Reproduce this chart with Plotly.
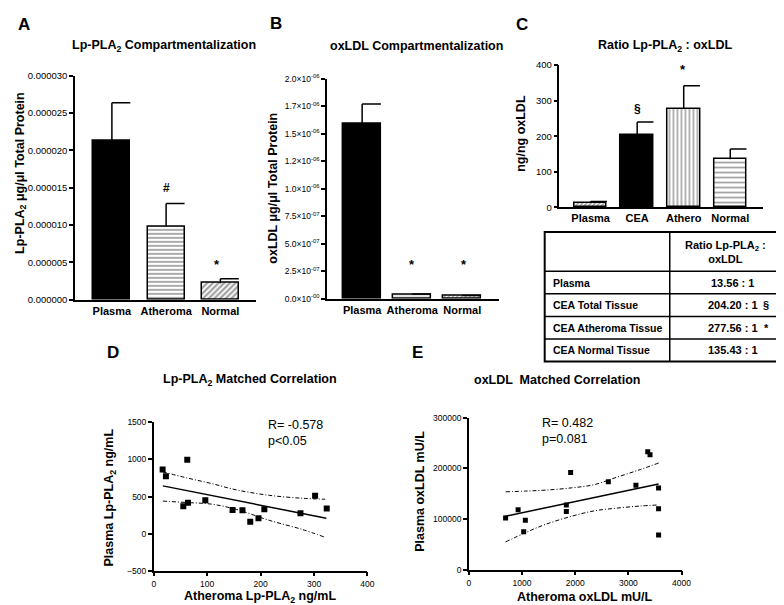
import plotly.graph_objects as go

W, H = 784, 605
FONT = "Liberation Sans, Arial, sans-serif"

# ---------------- data ----------------
bar_categories = ["Plasma", "Atheroma", "Normal"]
lp_pla2_mean = [2.13e-5, 9.8e-6, 2.2e-6]
lp_pla2_sem = [5.1e-6, 3.1e-6, 0.6e-6]
lp_pla2_ticks = [0, 5e-6, 1e-5, 1.5e-5, 2e-5, 2.5e-5, 3e-5]
lp_pla2_ticktext = ["0.000000", "0.000005", "0.000010", "0.000015", "0.000020", "0.000025", "0.000030"]

oxldl_mean = [1.59e-6, 3.8e-8, 2.5e-8]
oxldl_sem = [0.18e-6, 0.6e-8, 0.5e-8]
oxldl_ticks = [0, 2.5e-7, 5e-7, 7.5e-7, 1e-6, 1.25e-6, 1.5e-6, 1.75e-6, 2e-6]
oxldl_ticktext = ["0.0×10<sup>-00</sup>", "2.5×10<sup>-07</sup>", "5.0×10<sup>-07</sup>", "7.5×10<sup>-07</sup>",
                  "1.0×10<sup>-06</sup>", "1.2×10<sup>-06</sup>", "1.5×10<sup>-06</sup>", "1.7×10<sup>-06</sup>",
                  "2.0×10<sup>-06</sup>"]

ratio_categories = ["Plasma", "CEA", "Athero", "Normal"]
ratio_mean = [13.56, 204.20, 277.56, 135.43]
ratio_sem = [3, 36, 64, 29]

table_rows = ["Plasma", "CEA Total Tissue", "CEA Atheroma Tissue", "CEA Normal Tissue"]
table_vals = ["13.56 : 1", "204.20 : 1", "277.56 : 1", "135.43 : 1"]
table_marks = ["", "§", "*", ""]

# D: Lp-PLA2 matched correlation
d_x = [16.6, 22.7, 62.7, 55.3, 64, 96.5, 147.5, 166, 180.6, 196, 207, 274.6, 302, 323.8]
d_y = [866, 775, 995, 370, 415, 450, 318, 314, 160, 209, 329, 276, 510, 340]
d_fit_x = [17, 323]
d_fit_y = [644, 207]
d_band_x = [17, 63, 108, 155, 216, 278, 321]
d_band_hi = [832, 750, 676, 590, 517, 477, 464]
d_band_lo = [439, 419, 398, 326, 180, 56, -50]

# E: oxLDL matched correlation
e_x = [691, 926, 1062, 1031, 1833, 1833, 1914, 2623, 3142, 3364, 3407, 3568, 3568, 3568]
e_y = [101900, 118100, 97400, 74900, 127700, 114800, 191600, 173500, 166500, 232300, 226500, 161300, 120000, 68400]
e_fit_x = [670, 3568]
e_fit_y = [105000, 169000]
e_band_x = [691, 1062, 1432, 1926, 2358, 2790, 3222, 3568]
e_band_hi = [153500, 155000, 156800, 161300, 167700, 182600, 197400, 210300]
e_band_lo = [54800, 72900, 89000, 105200, 116000, 121500, 125500, 127700]


def fx(p):
    return p / W


def fy(p):
    return 1 - p / H


def err_lines(mean, sem, w):
    xs, ys = [], []
    for i, (m, e) in enumerate(zip(mean, sem)):
        xs += [i, i, None, i, i + w / 2, None]
        ys += [m, m + e, None, m + e, m + e, None]
    return xs, ys


fig = go.Figure()

# ---------- Panel A ----------
wA = 0.68
fig.add_trace(go.Bar(
    x=list(range(len(bar_categories))), y=lp_pla2_mean, width=wA,
    marker=dict(color=["black", "white", "white"],
                pattern=dict(shape=["", "-", "/"], fgcolor="black", size=[4, 4, 4], solidity=[0.3, 0.45, 0.55]),
                line=dict(color="black", width=1.5)),
    xaxis="x", yaxis="y"))
ex, ey = err_lines(lp_pla2_mean, lp_pla2_sem, wA)
fig.add_trace(go.Scatter(x=ex, y=ey, mode="lines", line=dict(color="black", width=1.5), xaxis="x", yaxis="y"))

# ---------- Panel B ----------
wB = 0.75
fig.add_trace(go.Bar(
    x=list(range(len(bar_categories))), y=oxldl_mean, width=wB,
    marker=dict(color=["black", "#e8e8e8", "white"],
                pattern=dict(shape=["", "", "/"], fgcolor="black", size=[4, 3, 3], solidity=[0.3, 0.3, 0.5]),
                line=dict(color="black", width=1.5)),
    xaxis="x2", yaxis="y2"))
ex, ey = err_lines(oxldl_mean, oxldl_sem, wB)
fig.add_trace(go.Scatter(x=ex, y=ey, mode="lines", line=dict(color="black", width=1.5), xaxis="x2", yaxis="y2"))

# ---------- Panel C ----------
wC = 0.70
fig.add_trace(go.Bar(
    x=list(range(len(ratio_categories))), y=ratio_mean, width=wC,
    marker=dict(color=["white", "black", "white", "white"],
                pattern=dict(shape=["/", "", "|", "-"], fgcolor="black", size=[3, 4, 4, 5], solidity=[0.55, 0.3, 0.4, 0.35]),
                line=dict(color="black", width=1.5)),
    xaxis="x3", yaxis="y3"))
ex, ey = err_lines(ratio_mean, ratio_sem, wC)
fig.add_trace(go.Scatter(x=ex, y=ey, mode="lines", line=dict(color="black", width=1.5), xaxis="x3", yaxis="y3"))

# ---------- Panel D ----------
band_style = dict(color="black", width=1, dash="4px,2px,1px,2px", shape="spline")
fig.add_trace(go.Scatter(x=d_band_x, y=d_band_hi, mode="lines", line=band_style, xaxis="x4", yaxis="y4"))
fig.add_trace(go.Scatter(x=d_band_x, y=d_band_lo, mode="lines", line=band_style, xaxis="x4", yaxis="y4"))
fig.add_trace(go.Scatter(x=d_fit_x, y=d_fit_y, mode="lines", line=dict(color="black", width=1.5), xaxis="x4", yaxis="y4"))
fig.add_trace(go.Scatter(x=d_x, y=d_y, mode="markers", marker=dict(symbol="square", size=6, color="black"),
                         xaxis="x4", yaxis="y4"))

# ---------- Panel E ----------
fig.add_trace(go.Scatter(x=e_band_x, y=e_band_hi, mode="lines", line=band_style, xaxis="x5", yaxis="y5"))
fig.add_trace(go.Scatter(x=e_band_x, y=e_band_lo, mode="lines", line=band_style, xaxis="x5", yaxis="y5"))
fig.add_trace(go.Scatter(x=e_fit_x, y=e_fit_y, mode="lines", line=dict(color="black", width=1.5), xaxis="x5", yaxis="y5"))
fig.add_trace(go.Scatter(x=e_x, y=e_y, mode="markers", marker=dict(symbol="square", size=5, color="black"),
                         xaxis="x5", yaxis="y5"))

axis_common = dict(showline=True, linecolor="black", linewidth=1.5, showgrid=False, zeroline=False,
                   tickfont=dict(family=FONT, size=9, color="black"), tickcolor="black", fixedrange=True)


def cat_x(domain, anchor, rng, cats, size=11):
    return dict(axis_common, domain=domain, anchor=anchor, range=rng, tickmode="array",
                tickvals=list(range(len(cats))), ticktext=["<b>%s</b>" % c for c in cats], ticks="",
                tickfont=dict(family=FONT, size=size, color="black"))


def val_y(domain, anchor, rng, tickvals=None, ticktext=None, dtick=None, size=9.5):
    d = dict(axis_common, domain=domain, anchor=anchor, range=rng, ticks="outside", ticklen=4, tickwidth=1.5,
             tickfont=dict(family=FONT, size=size, color="black"))
    if tickvals is not None:
        d.update(tickmode="array", tickvals=tickvals, ticktext=ticktext)
    else:
        d.update(dtick=dtick, tick0=0, tickformat="d")
    return d


fig.update_layout(
    width=W, height=H, margin=dict(l=0, r=0, t=0, b=0),
    paper_bgcolor="white", plot_bgcolor="white", showlegend=False, bargap=0,
    xaxis=cat_x([fx(66), fx(250)], "y", [-0.68, 2.66], bar_categories),
    yaxis=val_y([fy(291), fy(63)], "x", [0, 3e-5], lp_pla2_ticks, lp_pla2_ticktext),
    xaxis2=cat_x([fx(322), fx(497)], "y2", [-0.70, 2.74], bar_categories),
    yaxis2=val_y([fy(290), fy(66)], "x2", [0, 2e-6], oxldl_ticks, oxldl_ticktext, size=8.5),
    xaxis3=cat_x([fx(558), fx(765)], "y3", [-0.67, 3.71], ratio_categories),
    yaxis3=val_y([fy(197), fy(52)], "x3", [0, 400], dtick=100),
    xaxis4=dict(val_y([fx(146), fx(363)], "y4", [0, 400], dtick=100, size=8.5)),
    yaxis4=val_y([fy(567), fy(416)], "x4", [-500, 1500], dtick=500, size=8.5),
    xaxis5=dict(val_y([fx(466), fx(682)], "y5", [0, 4000], dtick=1000, size=8.5)),
    yaxis5=val_y([fy(566), fy(411)], "x5", [0, 300000], dtick=100000, size=8.5),
)

ann = []


def text(xp, yp, s, size, bold=True, angle=0, xanchor="center", yanchor="middle", family=FONT):
    ann.append(dict(x=fx(xp), y=fy(yp), xref="paper", yref="paper", text=("<b>%s</b>" % s) if bold else s,
                    showarrow=False, textangle=angle, xanchor=xanchor, yanchor=yanchor,
                    font=dict(family=family, size=size, color="black")))


# panel letters
text(6, 11, "A", 17, xanchor="left")
text(262, 10, "B", 17, xanchor="left")
text(512, 11, "C", 17, xanchor="left")
text(96, 345, "D", 17, xanchor="left")
text(406, 345, "E", 17, xanchor="left")

# titles
text(156, 33, "Lp-PLA<sub>2</sub> Compartmentalization", 12.5)
text(413, 33, "oxLDL Compartmentalization", 12.5)
text(665, 33, "Ratio Lp-PLA<sub>2</sub> : oxLDL", 12.5)
text(244, 373, "Lp-PLA<sub>2</sub> Matched Correlation", 12.5)
text(555, 373, "oxLDL  Matched Correlation", 12.5)

# axis titles
text(11, 162, "Lp-PLA<sub>2</sub> μg/μl Total Protein", 12.5, angle=-90)
text(267, 177, "oxLDL μg/μl Total Protein", 12.5, angle=-90)
text(519, 122, "ng/ng oxLDL", 12.5, angle=-90)
text(102, 492, "Plasma Lp-PLA<sub>2</sub> ng/mL", 12.5, angle=-90)
text(254, 594, "Atheroma Lp-PLA<sub>2</sub> ng/mL", 12.5)
text(417, 486, "Plasma oxLDL mU/L", 12.5, angle=-90)
text(584, 594, "Atheroma oxLDL mU/L", 12.5)

# significance marks
text(159, 177, "#", 12)
text(210, 255, "*", 13)
text(408, 255, "*", 13)
text(461, 255, "*", 13)
text(637, 97, "§", 12)
text(683, 57, "*", 13)

# statistics
ann.append(dict(x=fx(260), y=fy(427), xref="paper", yref="paper", text="R= -0.578<br>p<0.05", showarrow=False,
                xanchor="left", yanchor="middle", align="left", font=dict(family=FONT, size=12.5, color="black")))
ann.append(dict(x=fx(538), y=fy(425), xref="paper", yref="paper", text="R= 0.482<br>p=0.081", showarrow=False,
                xanchor="left", yanchor="middle", align="left", font=dict(family=FONT, size=12.5, color="black")))

# ---------- table ----------
t_left, t_right, t_div = 543, 782, 670
t_top, t_head = 222, 262
row_h = 23
shapes = []
row_lines = [t_head + row_h * i for i in range(len(table_rows) + 1)]
t_bottom = row_lines[-1]
shapes.append(dict(type="rect", xref="paper", yref="paper", x0=fx(t_left), x1=fx(t_right), y0=fy(t_bottom),
                   y1=fy(t_top), line=dict(color="black", width=2)))
shapes.append(dict(type="line", xref="paper", yref="paper", x0=fx(t_div), x1=fx(t_div), y0=fy(t_bottom),
                   y1=fy(t_top), line=dict(color="black", width=1.5)))
for yl in row_lines[:-1]:
    shapes.append(dict(type="line", xref="paper", yref="paper", x0=fx(t_left), x1=fx(t_right), y0=fy(yl),
                       y1=fy(yl), line=dict(color="black", width=1.5)))

text(727, (t_top + t_head) / 2, "Ratio Lp-PLA<sub>2</sub> :<br>oxLDL", 11)
for i, (r, v, m) in enumerate(zip(table_rows, table_vals, table_marks)):
    yc = t_head + row_h * (i + 0.5)
    text(549, yc, r, 10.5, xanchor="left")
    text(734, yc, v, 11)
    if m:
        text(768, yc, m, 11)

fig.update_layout(annotations=ann, shapes=shapes)
fig.write_html("out.html")
